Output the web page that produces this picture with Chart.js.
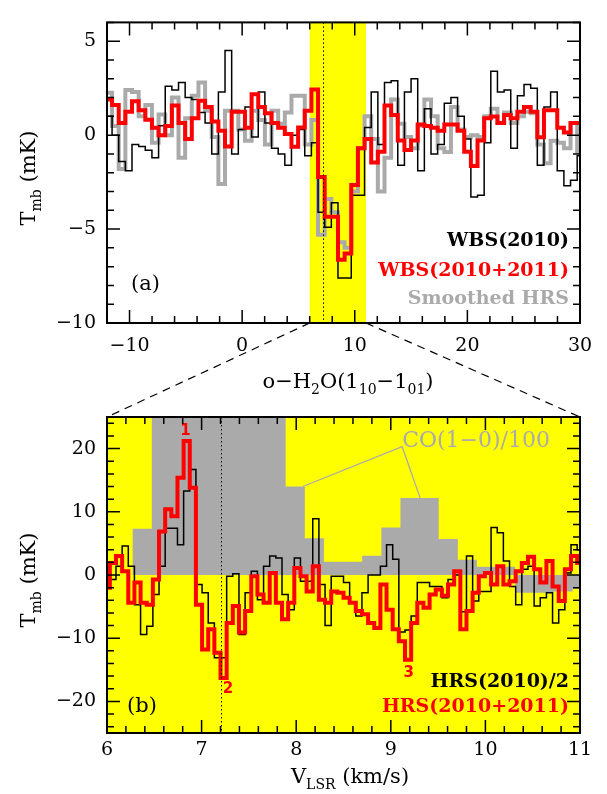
<!DOCTYPE html>
<html>
<head>
<meta charset="UTF-8">
<script src="https://cdn.jsdelivr.net/npm/chart.js@4.4.1/dist/chart.umd.min.js"></script>
<style>
  body { margin: 0; background: #fff; }
  #wrap { position: relative; width: 607px; height: 794px; }
  canvas { position: absolute; left: 0; }
  #topChart { top: 0; }
  #botChart { top: 323px; }
</style>
</head>
<body>
<div id="wrap">
  <canvas id="topChart" width="607" height="360"></canvas>
  <canvas id="botChart" width="607" height="471"></canvas>
</div>
<script>
// panel (a): WBS channels (left edge of first channel, width in km/s)
const wbsStart = -12.14;
const wbsWidth = 0.59;
const wbs2010 = [1.0, 0.0, -1.4, -1.9, -0.5, -0.6, -0.8, -1.2, 0.5, 2.6,
  2.4, 2.8, 2.0, 1.9, 1.2, 0.65, -1.0, 2.3, 4.5, -1.0,
  0.3, 1.5, -0.1, 2.3, 0.65, -0.7, -1.0, -1.6, 0.0, 0.3,
  -1.1, -0.4, -4.1, -4.9, -3.6, -7.6, -7.6, -3.2, -3.2, 0.4,
  2.3, -0.5, 2.8, 2.9, -1.6, 2.3, 3.0, -1.9, 1.4, -1.0,
  -0.5, 1.7, 2.0, 1.0, -0.2, -3.3, -3.2, -0.4, 3.4, 2.3,
  2.4, -0.7, 2.1, 2.7, 2.5, -1.6, 1.5, 2.3, -1.9, -2.7,
  -2.4, -1.1];
const wbsCombined = [1.9, 1.6, 0.65, 1.24, 1.8, 1.33, 0.82, 0.39, 0.0, 0.48,
  1.58, 0.65, -0.2, 0.9, 1.83, 1.5, 0.73, 0.23, -0.6, 1.24,
  1.24, 0.39, 2.18, 1.5, 1.16, 0.65, 0.39, 0.06, -0.62, 0.4,
  1.3, 2.43, -2.23, -4.35, -4.35, -6.63, -6.3, -2.65, -0.7, -0.2,
  -1.46, -0.88, 1.58, 1.07, -0.28, -0.79, -0.28, 0.56, 0.48, 0.39,
  0.23, 0.56, 0.56, 0.23, -0.88, -1.64, -0.28, 0.9, 0.99, 0.65,
  1.07, 0.9, 1.24, 1.5, 1.24, -0.11, 1.33, 1.33, 0.39, 0.14,
  0.65, 0.65];
const hrsSmoothed = [2.26, 0.48, -1.8, 2.4, 2.3, 1.0, 1.6, -0.4, 1.1, 0.0,
  2.0, -1.2, 0.9, 2.1, 2.8, 1.3, -0.1, -2.6, 1.3, 1.3,
  0.3, -0.3, 1.3, 0.8, -0.5, 1.3, 0.6, 1.2, 2.1, 2.1,
  -0.5, 0.8, -5.3, -3.4, -4.1, -5.7, -6.0, -3.0, -0.7, 1.0,
  -0.2, -3.0, -1.2, 1.9, 0.6, -0.1, -0.7, 0.5, 1.9, 1.0,
  -0.7, -0.9, 1.5, 0.3, -0.1, 0.0, -0.1, 1.0, 1.4, 0.65,
  1.2, 0.65, 1.0, 1.24, 1.16, -0.5, -1.5, -0.3, -0.4, -0.7,
  0.65, -0.9];

// panel (b): HRS channels
const hrsStart = 5.965;
const hrsWidth = 0.065;
const hrs2010Half = [-0.7, -0.7, 1.4, 4.6, 1.4, -4.7, -9.4, -8.1, -3.1, 1.4,
  7.4, 7.4, 4.8, 13.3, 16.7, -1.5, -2.8, -7.6, -13.1, -13.1,
  -0.2, 0.2, -9.4, -2.8, 0.6, -3.9, 1.4, 3.0, 2.7, -3.1,
  -5.5, 2.7, -1.0, -1.0, 8.9, -1.5, -8.0, -0.2, -0.2, -1.2,
  -4.4, -6.5, -2.8, 0.0, 0.0, 1.4, 4.8, 2.5, -9.0, -8.7,
  -6.5, -1.2, -1.2, -1.8, -1.8, -3.6, -0.7, 0.0, -5.8, 3.0,
  -4.1, -2.6, -2.6, 7.5, 6.7, 2.2, -1.8, -4.7, 0.9, 1.4,
  -4.9, -3.6, -2.8, -7.6, -5.5, 0.3, 4.8, 4.0];
const hrsCombined = [-2.0, 1.9, 3.0, 0.6, -4.4, -1.2, -4.4, -4.7, -0.7, 6.9,
  10.4, 9.3, 15.4, 21.2, 13.8, -4.7, -11.8, -8.6, -12.3, -16.3,
  -7.6, -4.9, -9.1, -5.7, -0.2, -3.1, -4.4, 0.3, -4.4, -7.0,
  -4.4, 1.1, -0.2, -2.6, 1.4, -3.9, -4.4, -2.6, -2.8, -3.6,
  -4.4, -5.7, -6.2, -7.6, -8.4, -1.5, -5.5, -8.6, -10.5, -13.4,
  -7.6, -4.4, -5.2, -3.1, -2.3, -3.3, -1.5, 0.6, -8.6, -5.7,
  -2.8, -0.2, 0.3, -1.5, 1.4, -1.5, -1.0, 0.6, 1.9, 2.9,
  0.9, -1.2, 2.2, -1.8, -4.1, 0.9, 3.0, 1.9];

// CO(1-0)/100 bins (values above 25 run off the top)
const coStart = 6.069;
const coWidth = 0.2022;
const co100 = [0, 7.3, 40, 40, 40, 40, 40, 40, 40, 14,
  5.8, 2.1, 2.1, 3.05, 7.5, 12.2, 12.2, 5.7, 2.4, 1.3,
  1.3, -2.8, -2.8, -2.6, -2.2];

const topXTicks = [-10, 0, 10, 20, 30];
const topYTicks = [-10, -5, 0, 5];
const botXTicks = [6, 7, 8, 9, 10, 11];
const botYTicks = [-20, -10, 0, 10, 20];

const zoomBand = [6, 11];
const vSource = 7.2;
const peakLabels = [['1', 6.83, 22.7], ['2', 7.28, -18.1], ['3', 9.19, -15.5]];
const coLabelAt = [9.12, 21.2];
const coLeaders = [[8.07, 14.0], [9.12, 20.3], [9.31, 12.2]];

const SERIF = 'DejaVu Serif';

function steps(start, width, vals) {
  const pts = vals.map((v, i) => ({ x: start + i * width, y: v }));
  pts.push({ x: start + vals.length * width, y: vals[vals.length - 1] });
  return pts;
}

function rich(ctx, parts, x, y, align, size) {
  const big = size + 'px "' + SERIF + '"';
  const small = Math.round(size * 0.68) + 'px "' + SERIF + '"';
  let w = 0;
  parts.forEach(p => { ctx.font = p[1] ? small : big; w += ctx.measureText(p[0]).width; });
  let cx = align === 'center' ? x - w / 2 : align === 'right' ? x - w : x;
  ctx.textAlign = 'left';
  ctx.textBaseline = 'middle';
  parts.forEach(p => {
    ctx.font = p[1] ? small : big;
    ctx.fillText(p[0], cx, p[1] ? y + size * 0.35 : y);
    cx += ctx.measureText(p[0]).width;
  });
}

const minus = v => (v < 0 ? '\u2212' + Math.abs(v) : '' + v);

const deco = {
  id: 'deco',
  beforeDatasetsDraw(chart, args, o) {
    const { ctx, chartArea: a, scales: { x } } = chart;
    ctx.save();
    ctx.fillStyle = '#ffff00';
    if (o.band) {
      const x0 = x.getPixelForValue(o.band[0]), x1 = x.getPixelForValue(o.band[1]);
      ctx.fillRect(x0, a.top, x1 - x0, a.height);
    } else {
      ctx.fillRect(a.left, a.top, a.width, a.height);
    }
    ctx.restore();
  },
  afterDatasetsDraw(chart, args, o) {
    const { ctx, chartArea: a, scales: { x, y } } = chart;
    ctx.save();
    // dotted source velocity
    const xd = Math.round(x.getPixelForValue(vSource)) + 0.5;
    ctx.strokeStyle = '#000';
    ctx.lineWidth = 1;
    ctx.setLineDash([1.5, 2.5]);
    ctx.beginPath(); ctx.moveTo(xd, a.top); ctx.lineTo(xd, a.bottom); ctx.stroke();
    ctx.setLineDash([]);

    // CO leader lines and label
    if (o.co) {
      ctx.strokeStyle = '#aaaaaa';
      ctx.lineWidth = 1.3;
      ctx.beginPath();
      coLeaders.forEach((p, i) => {
        const px = x.getPixelForValue(p[0]), py = y.getPixelForValue(p[1]);
        if (i === 0) ctx.moveTo(px, py); else ctx.lineTo(px, py);
      });
      ctx.stroke();
      ctx.fillStyle = '#aaaaaa';
      ctx.font = '22px "' + SERIF + '"';
      ctx.textAlign = 'left';
      ctx.textBaseline = 'middle';
      ctx.fillText('CO(1\u22120)/100', x.getPixelForValue(coLabelAt[0]), y.getPixelForValue(coLabelAt[1]));
      ctx.fillStyle = '#ff0000';
      ctx.font = 'bold 15px "DejaVu Sans"';
      ctx.textAlign = 'center';
      peakLabels.forEach(p => ctx.fillText(p[0], x.getPixelForValue(p[1]), y.getPixelForValue(p[2])));
    }

    // frame and inward ticks
    ctx.strokeStyle = '#000';
    ctx.lineWidth = 2;
    ctx.strokeRect(a.left, a.top, a.width, a.height);
    ctx.lineWidth = 1.5;
    ctx.beginPath();
    const major = (v, m) => Math.abs(v / m - Math.round(v / m)) < 1e-6;
    for (let n = Math.ceil(x.min / o.xt[0] - 1e-6); n * o.xt[0] <= x.max + 1e-6; n++) {
      const v = n * o.xt[0], len = major(v, o.xt[1]) ? 13 : 7, px = x.getPixelForValue(v);
      ctx.moveTo(px, a.bottom); ctx.lineTo(px, a.bottom - len);
      ctx.moveTo(px, a.top); ctx.lineTo(px, a.top + len);
    }
    for (let n = Math.ceil(y.min / o.yt[0] - 1e-6); n * o.yt[0] <= y.max + 1e-6; n++) {
      const v = n * o.yt[0], len = major(v, o.yt[1]) ? 13 : 7, py = y.getPixelForValue(v);
      ctx.moveTo(a.left, py); ctx.lineTo(a.left + len, py);
      ctx.moveTo(a.right, py); ctx.lineTo(a.right - len, py);
    }
    ctx.stroke();

    // texts
    o.texts.forEach(t => {
      ctx.fillStyle = t.color || '#000';
      if (t.rot) {
        ctx.save();
        ctx.translate(t.x, t.y);
        ctx.rotate(-Math.PI / 2);
        rich(ctx, t.parts, 0, 0, 'center', t.size);
        ctx.restore();
      } else if (t.bold) {
        ctx.font = 'bold ' + t.size + 'px "' + SERIF + '"';
        ctx.textAlign = t.align;
        ctx.textBaseline = 'middle';
        ctx.fillText(t.parts[0][0], t.x, t.y);
      } else {
        rich(ctx, t.parts, t.x, t.y, t.align, t.size);
      }
    });
    ctx.restore();
  },
  afterDraw(chart, args, o) {
    if (!o.connect) return;
    const { ctx, chartArea: a } = chart;
    const tx = topChart.scales.x;
    ctx.save();
    ctx.strokeStyle = '#000';
    ctx.lineWidth = 1.2;
    ctx.setLineDash([8, 6]);
    ctx.beginPath();
    ctx.moveTo(tx.getPixelForValue(zoomBand[0]), 0); ctx.lineTo(a.left, a.top);
    ctx.moveTo(tx.getPixelForValue(zoomBand[1]), 0); ctx.lineTo(a.right, a.top);
    ctx.stroke();
    ctx.restore();
  }
};

function lineSet(points, color, width, order) {
  return { data: points, borderColor: color, borderWidth: width, stepped: true,
    pointRadius: 0, fill: false, clip: 0, order: order, borderJoinStyle: 'miter' };
}

function axes(xMin, xMax, xTicks, yMin, yMax, yTicks, xHeight, xPad) {
  const tickFont = { family: SERIF, size: 19 };
  return {
    x: { type: 'linear', min: xMin, max: xMax,
      afterBuildTicks: s => { s.ticks = xTicks.map(v => ({ value: v })); },
      afterFit: s => { s.height = xHeight; },
      grid: { display: false, drawTicks: false }, border: { display: false },
      ticks: { font: tickFont, color: '#000', padding: xPad, maxRotation: 0, callback: minus } },
    y: { type: 'linear', min: yMin, max: yMax,
      afterBuildTicks: s => { s.ticks = yTicks.map(v => ({ value: v })); },
      afterFit: s => { s.width = 107; },
      grid: { display: false, drawTicks: false }, border: { display: false },
      ticks: { font: tickFont, color: '#000', padding: 11, callback: minus } }
  };
}

const tmb = [['T', 0], ['mb', 1], [' (mK)', 0]];

const topChart = new Chart(document.getElementById('topChart'), {
  type: 'line',
  data: { datasets: [
    lineSet(steps(wbsStart, wbsWidth, wbsCombined), '#ff0000', 4, 1),
    lineSet(steps(wbsStart, wbsWidth, wbs2010), '#000000', 1.5, 2),
    lineSet(steps(wbsStart, wbsWidth, hrsSmoothed), '#aaaaaa', 4, 3)
  ] },
  options: {
    responsive: false, animation: false, events: [],
    layout: { padding: { top: 8, right: 27, left: 0, bottom: 0 } },
    scales: axes(-12, 30, topXTicks, -10, 6, topYTicks, 37, 12),
    plugins: {
      legend: { display: false }, tooltip: { enabled: false },
      deco: { band: zoomBand, xt: [2, 10], yt: [1, 5], texts: [
        { parts: tmb, x: 30, y: 178, size: 21, rot: true },
        { parts: [['(a)', 0]], x: 131, y: 285, size: 21, align: 'left' },
        { parts: [['WBS(2010)', 0]], x: 569, y: 241, size: 19, align: 'right', bold: true },
        { parts: [['WBS(2010+2011)', 0]], x: 569, y: 271, size: 19, align: 'right', bold: true, color: '#ff0000' },
        { parts: [['Smoothed HRS', 0]], x: 569, y: 299, size: 19, align: 'right', bold: true, color: '#aaaaaa' }
      ] }
    }
  },
  plugins: [deco]
});

const botChart = new Chart(document.getElementById('botChart'), {
  type: 'line',
  data: { datasets: [
    lineSet(steps(hrsStart, hrsWidth, hrsCombined), '#ff0000', 4, 1),
    lineSet(steps(hrsStart, hrsWidth, hrs2010Half), '#000000', 1.5, 2),
    Object.assign(lineSet(steps(coStart, coWidth, co100), 'rgba(0,0,0,0)', 0, 3),
      { fill: 'origin', backgroundColor: '#aaaaaa' })
  ] },
  options: {
    responsive: false, animation: false, events: [],
    layout: { padding: { top: 94, right: 27, left: 0, bottom: 0 } },
    scales: axes(6, 11, botXTicks, -25, 25, botYTicks, 61, 6),
    plugins: {
      legend: { display: false }, tooltip: { enabled: false },
      deco: { connect: true, co: true, xt: [0.2, 1], yt: [2, 10], texts: [
        { parts: [['o\u2212H', 0], ['2', 1], ['O(1', 0], ['10', 1], ['\u22121', 0], ['01', 1], [')', 0]], x: 348, y: 60, size: 21, align: 'center' },
        { parts: tmb, x: 30, y: 257, size: 21, rot: true },
        { parts: [['(b)', 0]], x: 127, y: 384, size: 21, align: 'left' },
        { parts: [['HRS(2010)/2', 0]], x: 569, y: 359, size: 19, align: 'right', bold: true },
        { parts: [['HRS(2010+2011)', 0]], x: 569, y: 384, size: 19, align: 'right', bold: true, color: '#ff0000' },
        { parts: [['V', 0], ['LSR', 1], [' (km/s)', 0]], x: 350, y: 455, size: 21, align: 'center' }
      ] }
    }
  },
  plugins: [deco]
});
</script>
</body>
</html>
